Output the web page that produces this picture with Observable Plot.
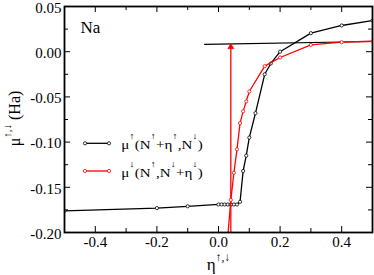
<!DOCTYPE html>
<html>
<head>
<meta charset="utf-8">
<script src="https://cdn.jsdelivr.net/npm/d3@7"></script>
<script src="https://cdn.jsdelivr.net/npm/@observablehq/plot@0.6"></script>
<style>
html,body{margin:0;padding:0;background:#fff;}
svg text{font-family:"Liberation Serif","DejaVu Serif",serif;}
</style>
</head>
<body>
<div id="chart"></div>
<script>
// Series: mu_up(N_up + eta_up, N_down) — black
const upEta = [-0.5, -0.2, -0.1, 0.0, 0.01, 0.02, 0.03, 0.04, 0.05, 0.06, 0.07, 0.08, 0.09, 0.10, 0.12, 0.15, 0.17, 0.20, 0.30, 0.40, 0.50];
const upMu  = [-0.176, -0.173, -0.171, -0.169, -0.169, -0.169, -0.169, -0.169, -0.169, -0.169, -0.166, -0.132, -0.115, -0.095, -0.068, -0.025, -0.013, 0.000, 0.0205, 0.029, 0.0345];
// Series: mu_down(N_up, N_down + eta_down) — red
const dnEta = [0.03, 0.04, 0.05, 0.06, 0.07, 0.08, 0.09, 0.10, 0.15, 0.20, 0.30, 0.40, 0.50];
const dnMu  = [-0.205, -0.164, -0.134, -0.108, -0.079, -0.066, -0.055, -0.044, -0.016, -0.0064, 0.0076, 0.0105, 0.0116];
const dnMarked = [false, true, true, true, true, true, true, true, true, true, true, true, true];
// Reference line (black) and vertical arrow (red)
const refEta = [-0.045, 0.5];
const refMu  = [0.008, 0.0113];
const arrowEta = 0.04;
const arrowMu  = [-0.2, 0.007];
const arrowHeadMu = 0.0052;
// Ticks
const xLabelTicks = [-0.4, -0.2, 0.0, 0.2, 0.4];
const xMinorTicks = [-0.3, -0.1, 0.1, 0.3];
const yLabelTicks = [0.05, 0.00, -0.05, -0.10, -0.15, -0.20];
const yMinorTicks = [0.025, -0.025, -0.075, -0.125, -0.175];
const legendLabels = ["μ↑(N↑+η↑,N↓)", "μ↓(N↑,N↓+η↓)"];
const elementLabel = "Na";

const up = upEta.map((x, i) => ({x, y: upMu[i]}));
const dn = dnEta.map((x, i) => ({x, y: dnMu[i], m: dnMarked[i]}));
const refLine = refEta.map((x, i) => ({x, y: refMu[i]}));
const arrowLine = arrowMu.map(y => ({x: arrowEta, y}));

const W = 374, H = 275;
const mL = 64, mR = 2, mT = 6, mB = 43;
const innerW = W - mL - mR, innerH = H - mT - mB;
const majLen = 6, minLen = 4;
const RED = "#ff0000";
const FONT = '"Liberation Serif", "DejaVu Serif", serif';

const tickMarks = (len, major) => [
  Plot.tickX(major ? xLabelTicks : xMinorTicks, {x: d => d, insetTop: innerH - len, stroke: "black", strokeWidth: 1}),
  Plot.tickX(major ? xLabelTicks : xMinorTicks, {x: d => d, insetBottom: innerH - len, stroke: "black", strokeWidth: 1}),
  Plot.tickY(major ? yLabelTicks : yMinorTicks, {y: d => d, insetRight: innerW - len, stroke: "black", strokeWidth: 1}),
  Plot.tickY(major ? yLabelTicks : yMinorTicks, {y: d => d, insetLeft: innerW - len, stroke: "black", strokeWidth: 1})
];

const plot = Plot.plot({
  width: W, height: H,
  marginLeft: mL, marginRight: mR, marginTop: mT, marginBottom: mB,
  style: {fontFamily: FONT, fontSize: "15px", color: "black", background: "white"},
  x: {domain: [-0.5, 0.5], label: null},
  y: {domain: [-0.2, 0.05], label: null},
  marks: [
    Plot.axisX(xLabelTicks, {tickSize: 0, tickPadding: 4, tickFormat: d => d.toFixed(1), fontSize: 15, label: null}),
    Plot.axisY(yLabelTicks, {tickSize: 0, tickPadding: 3, dy: 1.5, tickFormat: d => d.toFixed(2), fontSize: 15, label: null}),
    ...tickMarks(majLen, true),
    ...tickMarks(minLen, false),
    Plot.line(refLine, {x: "x", y: "y", stroke: "black", strokeWidth: 1.2}),
    Plot.line(arrowLine, {x: "x", y: "y", stroke: RED, strokeWidth: 1.3, clip: true}),
    Plot.dot([{x: arrowEta, y: arrowHeadMu}], {x: "x", y: "y", symbol: "triangle", r: 2.3, fill: RED, stroke: RED, strokeWidth: 0.5}),
    Plot.line(up, {x: "x", y: "y", stroke: "black", strokeWidth: 1.3, clip: true}),
    Plot.dot(up, {x: "x", y: "y", r: 1.6, stroke: "black", fill: "white", strokeWidth: 0.8, clip: true}),
    Plot.line(dn, {x: "x", y: "y", stroke: RED, strokeWidth: 1.3, clip: true}),
    Plot.dot(dn.filter(d => d.m), {x: "x", y: "y", r: 1.6, stroke: RED, fill: "white", strokeWidth: 0.8, clip: true}),
    Plot.frame({stroke: "black", strokeWidth: 1.8})
  ]
});
document.getElementById("chart").appendChild(plot);

const svg = d3.select(plot);

function richText(g, x, y, text, size, supSize, supDy, anchor, transform) {
  const t = g.append("text")
    .attr("x", x).attr("y", y)
    .style("font-family", FONT).attr("font-size", size)
    .attr("fill", "black")
    .attr("text-anchor", anchor || "start");
  if (transform) t.attr("transform", transform);
  const supChars = new Set(["↑", "↓"]);
  const runs = [];
  const chars = Array.from(text);
  for (let i = 0; i < chars.length; i++) {
    const c = chars[i];
    const sup = supChars.has(c) || (c === "," && supChars.has(chars[i - 1]) && supChars.has(chars[i + 1]));
    if (runs.length && runs[runs.length - 1].sup === sup) runs[runs.length - 1].s += c;
    else runs.push({s: c, sup});
  }
  let raised = false;
  runs.forEach(r => {
    const ts = t.append("tspan").text(r.s);
    if (r.sup) { ts.attr("font-size", supSize).attr("dy", -supDy); raised = true; }
    else if (raised) { ts.attr("dy", supDy); raised = false; }
  });
  return t;
}

// Element label
svg.append("text").attr("x", 80.5).attr("y", 33.3).attr("text-anchor", "start")
  .style("font-family", FONT).attr("font-size", 17).attr("fill", "black").text(elementLabel);

// Legend
const legendColors = ["black", RED];
const legendY = [143.3, 171];
legendLabels.forEach((lab, i) => {
  const g = svg.append("g");
  g.append("line").attr("x1", 85).attr("x2", 109).attr("y1", legendY[i]).attr("y2", legendY[i])
    .attr("stroke", legendColors[i]).attr("stroke-width", 1.3);
  [85, 109].forEach(cx => g.append("circle").attr("cx", cx).attr("cy", legendY[i]).attr("r", 1.6)
    .attr("stroke", legendColors[i]).attr("fill", "white").attr("stroke-width", 0.8));
  richText(g, 0, 0, lab, 12.5, 9, 10, "start", `translate(121.3,${legendY[i] + 5.5}) scale(1.2,1)`);
});

// Axis labels
richText(svg, 218.5, 269.5, "η↑,↓", 17, 11.5, 8.5, "middle");
richText(svg, 0, 0, "μ↑,↓ (Ha)", 16, 11, 9, "middle", "translate(19.5,118.5) rotate(-90)");
</script>
</body>
</html>
